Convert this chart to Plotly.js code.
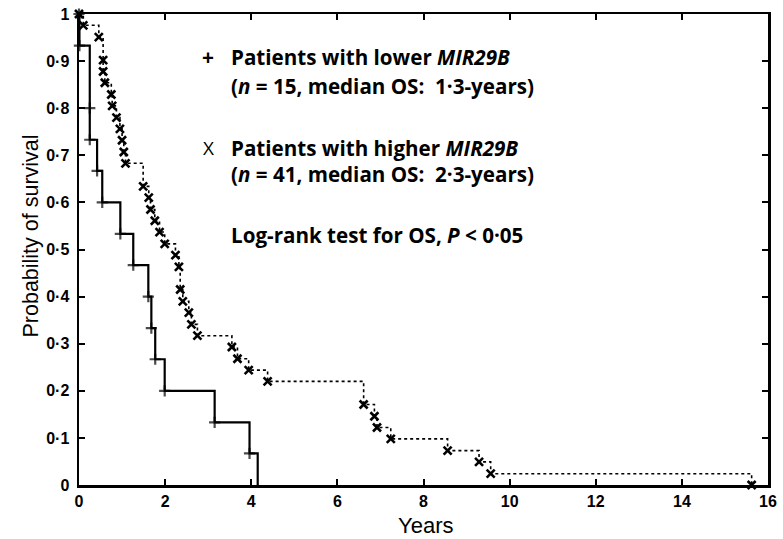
<!DOCTYPE html>
<html>
<head>
<meta charset="utf-8">
<script src="https://cdn.plot.ly/plotly-3.0.1.min.js"></script>
<style>html,body{margin:0;padding:0;background:#fff;}#chart{width:783px;height:539px;}</style>
</head>
<body>
<div id="chart"></div>
<script>
// Lower MIR29B group (n = 15): event times (years) and survival probability
var lowerTimes = [0, 0.01, 0.25, 0.25, 0.42, 0.54, 0.96, 1.26, 1.61, 1.68, 1.77, 1.99, 3.15, 3.96, 4.15];
var lowerSurv  = [1, 0.933, 0.8, 0.733, 0.667, 0.6, 0.533, 0.467, 0.4, 0.333, 0.267, 0.2, 0.133, 0.067, 0];

// Higher MIR29B group (n = 41)
var higherTimes = [0, 0.10, 0.46, 0.56, 0.56, 0.60, 0.75, 0.77, 0.87, 0.95, 1.00, 1.04, 1.08, 1.49, 1.62, 1.66,
                   1.76, 1.87, 1.99, 2.24, 2.32, 2.35, 2.41, 2.55, 2.61, 2.75, 3.55, 3.68, 3.94, 4.38, 6.61,
                   6.86, 6.92, 7.24, 8.56, 9.29, 9.56, 15.62];
var higherSurv  = [1, 0.976, 0.951, 0.902, 0.878, 0.854, 0.829, 0.805, 0.780, 0.756, 0.732, 0.707, 0.683, 0.634,
                   0.610, 0.585, 0.561, 0.537, 0.512, 0.488, 0.463, 0.415, 0.390, 0.366, 0.341, 0.317, 0.293,
                   0.268, 0.244, 0.220, 0.171, 0.146, 0.122, 0.098, 0.073, 0.049, 0.024, 0];

// Tick labels
var xTickVals = [0, 2, 4, 6, 8, 10, 12, 14, 16];
var xTickText = ['0', '2', '4', '6', '8', '10', '12', '14', '16'];
var yTickVals = [0, 0.1, 0.2, 0.3, 0.4, 0.5, 0.6, 0.7, 0.8, 0.9, 1];
var yTickText = ['0', '0·1', '0·2', '0·3', '0·4', '0·5', '0·6', '0·7', '0·8', '0·9', '1'];

// Annotation texts
var legendLines = [
  {sym: '+', text: 'Patients with lower <i>MIR29B</i>'},
  {sym: '', text: '(<i>n</i> = 15, median OS:\u00a0 1·3-years)'},
  {sym: 'X', text: 'Patients with higher <i>MIR29B</i>'},
  {sym: '', text: '(<i>n</i> = 41, median OS:\u00a0 2·3-years)'},
  {sym: '', text: 'Log-rank test for OS, <i>P</i> < 0·05'}
];
var xTitle = 'Years';
var yTitle = 'Probability of survival';

var lowerSizes = lowerSurv.map(function (s, i) { return (i === lowerSurv.length - 1) ? 0 : 8; });
function bold(arr) { return arr.map(function (t) { return '<b>' + t + '</b>'; }); }

var traces = [
  {
    x: higherTimes, y: higherSurv, type: 'scatter', mode: 'lines+markers',
    line: {shape: 'hv', dash: 'dot', width: 1.6, color: '#000'},
    marker: {symbol: 'x-thin', size: 8, line: {width: 2.6, color: '#000'}, color: '#000'},
    cliponaxis: false, showlegend: false, hoverinfo: 'skip'
  },
  {
    x: lowerTimes, y: lowerSurv, type: 'scatter', mode: 'lines+markers',
    line: {shape: 'hv', width: 2.2, color: '#000'},
    marker: {symbol: 'cross-thin', size: lowerSizes, line: {width: 2.2, color: '#000'}, color: '#000'},
    cliponaxis: false, showlegend: false, hoverinfo: 'skip'
  }
];

var plotL = 78.5, plotR = 768, plotT = 14, plotB = 485;
function px2paperX(px) { return (px - plotL) / (plotR - plotL); }
function px2paperY(py) { return (plotB - py) / (plotB - plotT); }

var lineY = [57, 86, 148, 174, 235];
var annotations = [];
legendLines.forEach(function (ln, i) {
  annotations.push({
    xref: 'paper', yref: 'paper', x: px2paperX(229), y: px2paperY(lineY[i]),
    xanchor: 'left', yanchor: 'middle', showarrow: false,
    text: '<b>' + ln.text + '</b>',
    font: {family: '"Open Sans", Lato, sans-serif', size: 20.6, color: '#000'}
  });
  if (ln.sym) {
    annotations.push({
      xref: 'paper', yref: 'paper', x: px2paperX(208), y: px2paperY(lineY[i]),
      xanchor: 'center', yanchor: 'middle', showarrow: false,
      text: ln.sym === '+' ? '<b>+</b>' : ln.sym,
      font: {family: '"Open Sans", Lato, sans-serif', size: ln.sym === '+' ? 21 : 19, color: '#000'}
    });
  }
});
annotations.push({
  xref: 'paper', yref: 'paper', x: px2paperX(425), y: px2paperY(525),
  xanchor: 'center', yanchor: 'middle', showarrow: false, text: xTitle,
  font: {family: '"Liberation Sans", Arial, sans-serif', size: 22, color: '#000'}
});
annotations.push({
  xref: 'paper', yref: 'paper', x: px2paperX(30), y: px2paperY(236),
  xanchor: 'center', yanchor: 'middle', showarrow: false, text: yTitle, textangle: -90,
  font: {family: '"Liberation Sans", Arial, sans-serif', size: 21.5, color: '#000'}
});

var axisCommon = {
  showgrid: false, zeroline: false, showline: true, linecolor: '#000', linewidth: 2.5,
  mirror: 'ticks', ticks: 'inside', ticklen: 6, tickwidth: 2, tickcolor: '#000',
  tickmode: 'array', fixedrange: true,
  tickfont: {family: '"Liberation Sans", Arial, sans-serif', size: 16, color: '#000'}
};

var layout = {
  width: 783, height: 539,
  margin: {l: plotL, r: 783 - plotR, t: plotT, b: 539 - plotB},
  paper_bgcolor: '#fff', plot_bgcolor: '#fff',
  xaxis: Object.assign({}, axisCommon, {range: [0, 16], tickvals: xTickVals, ticktext: bold(xTickText)}),
  yaxis: Object.assign({}, axisCommon, {range: [0, 1], tickvals: yTickVals, ticktext: bold(yTickText), ticklabelstandoff: 4}),
  annotations: annotations,
  showlegend: false
};

Plotly.newPlot('chart', traces, layout, {displayModeBar: false, staticPlot: true});
</script>
</body>
</html>
